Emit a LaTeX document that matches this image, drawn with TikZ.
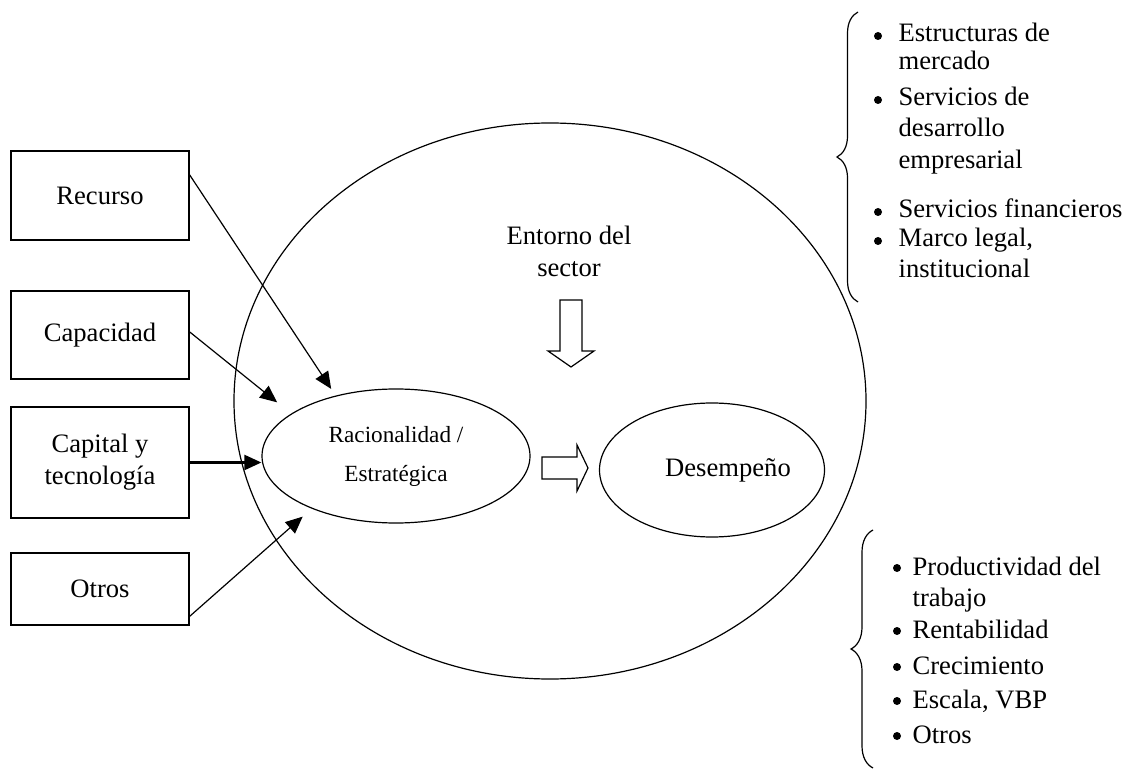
\documentclass[tikz,border=0pt]{standalone}
\usepackage{fontspec}
\setmainfont{Liberation Serif}
\usetikzlibrary{shapes.geometric,arrows.meta,decorations.pathreplacing}

\begin{document}
\begin{tikzpicture}[x=0.5pt,y=-0.5pt,line width=0.6pt,
  caja/.style={draw,minimum width=89pt,align=center,inner sep=0pt,font=\fontsize{13.3}{16}\selectfont},
  elipse/.style={draw,ellipse,inner sep=0pt},
  flecha/.style={-{Triangle[length=8.5pt,width=7.5pt]}},
  linea/.style={anchor=base west,inner sep=0pt,font=\fontsize{13.3}{16}\selectfont},
  punto/.style={circle,fill,inner sep=0pt,minimum size=4pt},
  llave/.style={decorate,decoration={brace,amplitude=#1}}]
  \useasboundingbox (0,0) rectangle (1123,769);

  % ellipses
  \node[elipse,minimum width=316pt,minimum height=278pt] (entorno) at (550,401) {};
  \node[elipse,minimum width=134pt,minimum height=67pt,align=center,
    font=\fontsize{11.6}{19.5}\selectfont] (racional) at (396,456) {Racionalidad /\\Estratégica};
  \node[elipse,minimum width=112.5pt,minimum height=67pt,
    label={[xshift=8pt,font=\fontsize{13.3}{16}\selectfont]center:Desempeño}] (desemp) at (712,470) {};
  \node[align=center,font=\fontsize{13.3}{16}\selectfont] (entTxt) at (569,251) {Entorno del\\sector};

  % boxes on the left
  \node[caja,minimum height=44.5pt] (recurso) at (100,195.5) {Recurso};
  \node[caja,minimum height=44pt] (capacidad) at (100,335) {Capacidad};
  \node[caja,minimum height=55.5pt] (capital) at (100,462.5) {Capital y\\tecnología};
  \node[caja,minimum height=36pt] (otros) at (100,589) {Otros};

  \draw[flecha,shorten >=4pt] (recurso.13) -- (racional.135);
  \draw[flecha,shorten >=9pt] (capacidad.2) -- (racional.158);
  \draw[flecha,line width=1.2pt] (capital.east) -- (capital.east -| racional.west);
  \draw[flecha,shorten >=6pt] (otros.-17.5) -- (racional.212);

  % hollow arrows
  \draw (560,300) -- (582,300) -- (582,351) -- (594,351) -- (571,367) -- (548,351) -- (560,351) -- cycle;
  \draw (542,457) -- (577,457) -- (577,445) -- (588,468) -- (577,491) -- (577,479) -- (542,479) -- cycle;

  % top list
  \draw[llave=10.5pt] (858,302) -- (858,12);
  \node[punto] (p1) at (878,36) {};
  \node[linea] (t1) at (898,42) {Estructuras de};
  \node[linea] (t1b) at (898,70) {mercado};
  \node[punto] (p2) at (878,100) {};
  \node[linea] (t2) at (898,106) {Servicios de};
  \node[linea] (t2b) at (898,137) {desarrollo};
  \node[linea] (t2c) at (898,169) {empresarial};
  \node[punto] (p3) at (878,212) {};
  \node[linea] (t3) at (898,218) {Servicios financieros};
  \node[punto] (p4) at (878,241) {};
  \node[linea] (t4) at (898,247) {Marco legal,};
  \node[linea] (t4b) at (898,278) {institucional};

  % bottom list
  \draw[llave=11pt] (873,768) -- (873,530);
  \node[punto] (q1) at (897,568) {};
  \node[linea] (b1) at (912,575) {Productividad del};
  \node[linea] (b1b) at (912,606) {trabajo};
  \node[punto] (q2) at (897,631) {};
  \node[linea] (b2) at (912,638) {Rentabilidad};
  \node[punto] (q3) at (897,667) {};
  \node[linea] (b3) at (912,674) {Crecimiento};
  \node[punto] (q4) at (897,701) {};
  \node[linea] (b4) at (912,708) {Escala, VBP};
  \node[punto] (q5) at (897,736) {};
  \node[linea] (b5) at (912,743) {Otros};
\end{tikzpicture}
\end{document}
